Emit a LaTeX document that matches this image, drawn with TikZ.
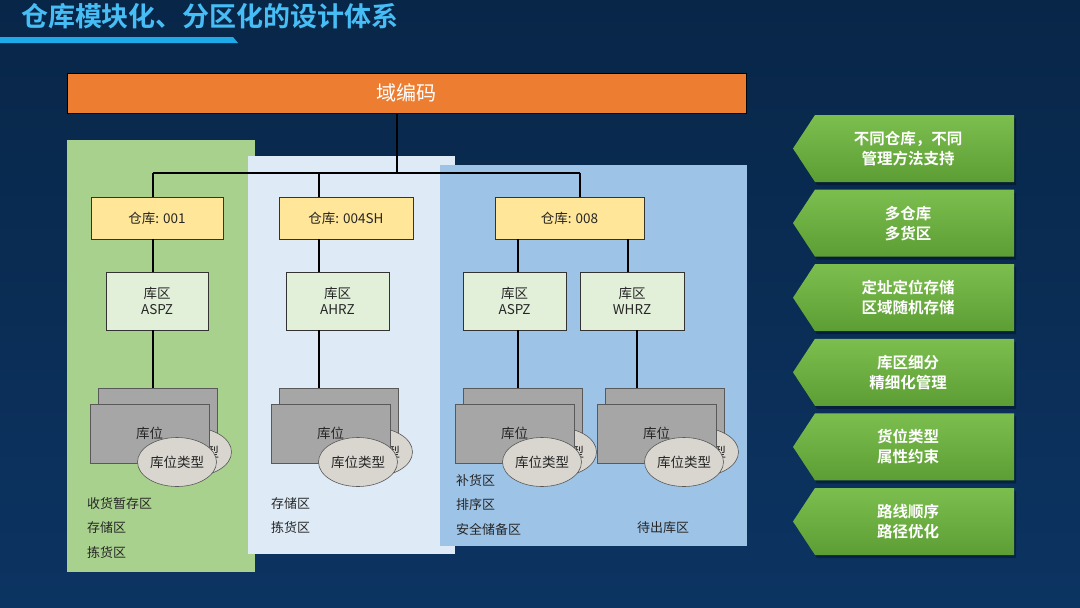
\documentclass[tikz,border=0pt]{standalone}
\usepackage{fontspec}
\setmainfont{Noto Sans CJK SC}[BoldFont={Noto Sans CJK SC Bold}]
\usetikzlibrary{shapes.geometric}

\definecolor{bgtop}{RGB}{8,38,72}
\definecolor{bgbot}{RGB}{12,52,98}
\definecolor{titleblue}{RGB}{70,190,245}
\definecolor{barblue}{RGB}{30,170,232}
\definecolor{codeorange}{RGB}{237,125,49}
\definecolor{pgreen}{RGB}{169,209,142}
\definecolor{plight}{RGB}{222,235,247}
\definecolor{pblue}{RGB}{157,195,230}
\definecolor{whyellow}{RGB}{255,230,153}
\definecolor{zonegreen}{RGB}{226,240,217}
\definecolor{locgray}{RGB}{166,166,166}
\definecolor{ellgray}{RGB}{217,214,207}
\definecolor{textgray}{RGB}{38,38,38}
\definecolor{goaltop}{RGB}{124,190,78}
\definecolor{goalbot}{RGB}{92,158,52}

% one stack of storage locations: name, left x
\newcommand{\locstack}[2]{%
    \node[locbox, anchor=north west] (#1b) at (#2+8,388) {};
    \node[typeell] (#1be) at (#2+102,452) {库位类型};
    \node[locbox, anchor=north west] (#1) at (#2,404) {库位};
    \node[typeell] (#1e) at (#2+87,462) {库位类型};
}

\begin{document}
\begin{tikzpicture}[x=1pt, y=-1pt,
    every node/.style={inner sep=0pt, outer sep=0pt, text=textgray},
    link/.style={line width=1.6pt, black},
    whbox/.style={draw=black!80, line width=0.6pt, fill=whyellow,
        minimum height=42pt, font=\fontsize{13.5}{15}\selectfont},
    zonebox/.style={draw=black!80, line width=0.6pt, fill=zonegreen,
        minimum width=103pt, minimum height=58pt, align=center,
        font=\fontsize{13.5}{16}\selectfont},
    locbox/.style={draw=black!65, line width=0.6pt, fill=locgray,
        minimum width=119pt, minimum height=59pt,
        font=\fontsize{13.5}{15}\selectfont},
    typeell/.style={ellipse, draw=black!65, line width=0.6pt, fill=ellgray,
        minimum width=79pt, minimum height=49pt,
        font=\fontsize{13.5}{15}\selectfont},
    arealist/.style={anchor=north west, align=left,
        font=\fontsize{13}{24.5}\selectfont},
    goaltext/.style={align=center, text=white,
        font=\bfseries\fontsize{15.5}{20}\selectfont}]

    \useasboundingbox (0,0) rectangle (1080,608);
    \shade[top color=bgtop, bottom color=bgbot] (0,0) rectangle (1080,608);

    % title
    \node[anchor=west, text=titleblue, font=\bfseries\fontsize{27}{30}\selectfont]
        (title) at (21,16) {仓库模块化、分区化的设计体系};
    \fill[barblue] (0,37) -- (233,37) -- (238,43) -- (0,43) -- cycle;

    % panels
    \fill[pgreen] (67,140) rectangle (255,572);
    \fill[plight] (248,156) rectangle (455,554);
    \fill[pblue] (440,165) rectangle (747,546);

    \node[draw=black, line width=0.8pt, fill=codeorange, minimum width=679pt,
        minimum height=40pt, text=white, font=\fontsize{20}{22}\selectfont]
        (code) at (406.5,93) {域编码};

    % warehouses
    \node[whbox, minimum width=132pt] (w1) at (157,218) {仓库: 001};
    \node[whbox, minimum width=134pt] (w2) at (346,218) {仓库: 004SH};
    \node[whbox, minimum width=149pt] (w3) at (569.5,218) {仓库: 008};

    % zones
    \node[zonebox, minimum width=102pt] (z1) at (157,301) {库区\\ASPZ};
    \node[zonebox] (z2) at (337.5,301) {库区\\AHRZ};
    \node[zonebox] (z3) at (514.5,301) {库区\\ASPZ};
    \node[zonebox, minimum width=104pt] (z4) at (632,301) {库区\\WHRZ};

    % locations
    \locstack{s1}{90}
    \locstack{s2}{271}
    \locstack{s3}{455}
    \locstack{s4}{597}

    % connectors
    \coordinate (bus) at (397,173);
    \coordinate (x1) at (153,173);
    \coordinate (x2) at (319,173);
    \coordinate (x3) at (580,173);
    \coordinate (x4) at (518,173);
    \coordinate (x5) at (628,173);
    \coordinate (x6) at (637,173);
    \draw[link] (code.south -| bus) -- (bus);
    \draw[link] (x1) -- (x3);
    \draw[link] (x1) -- (w1.north -| x1);
    \draw[link] (x2) -- (w2.north -| x2);
    \draw[link] (x3) -- (w3.north -| x3);
    \draw[link] (w1.south -| x1) -- (z1.north -| x1);
    \draw[link] (w2.south -| x2) -- (z2.north -| x2);
    \draw[link] (w3.south -| x4) -- (z3.north -| x4);
    \draw[link] (w3.south -| x5) -- (z4.north -| x5);
    \draw[link] (z1.south -| x1) -- (s1b.north -| x1);
    \draw[link] (z2.south -| x2) -- (s2b.north -| x2);
    \draw[link] (z3.south -| x4) -- (s3b.north -| x4);
    \draw[link] (z4.south -| x6) -- (s4b.north -| x6);

    % area lists
    \node[arealist] (a1) at (87,497.5) {收货暂存区\\存储区\\拣货区};
    \node[arealist] (a2) at (271,497.5) {存储区\\拣货区};
    \node[arealist] (a3) at (456,474.5) {补货区\\排序区\\安全储备区};
    \node[arealist] (a4) at (637,521.5) {待出库区};

    % goals
    \foreach \txt [count=\i from 0] in {{不同仓库，不同\\管理方法支持}, {多仓库\\多货区},
            {定址定位存储\\区域随机存储}, {库区细分\\精细化管理},
            {货位类型\\属性约束}, {路线顺序\\路径优化}} {
        \pgfmathsetmacro\ytop{115+74.6*\i}
        \fill[black, opacity=0.3] (817,\ytop+3) -- (1016,\ytop+3) -- (1016,\ytop+70)
            -- (817,\ytop+70) -- (795,\ytop+36.5) -- cycle;
        \shade[top color=goaltop, bottom color=goalbot] (815,\ytop) -- (1014,\ytop)
            -- (1014,\ytop+67) -- (815,\ytop+67) -- (793,\ytop+33.5) -- cycle;
        \node[goaltext] (g\i) at (908,\ytop+33.5) {\txt};
    }
\end{tikzpicture}
\end{document}
